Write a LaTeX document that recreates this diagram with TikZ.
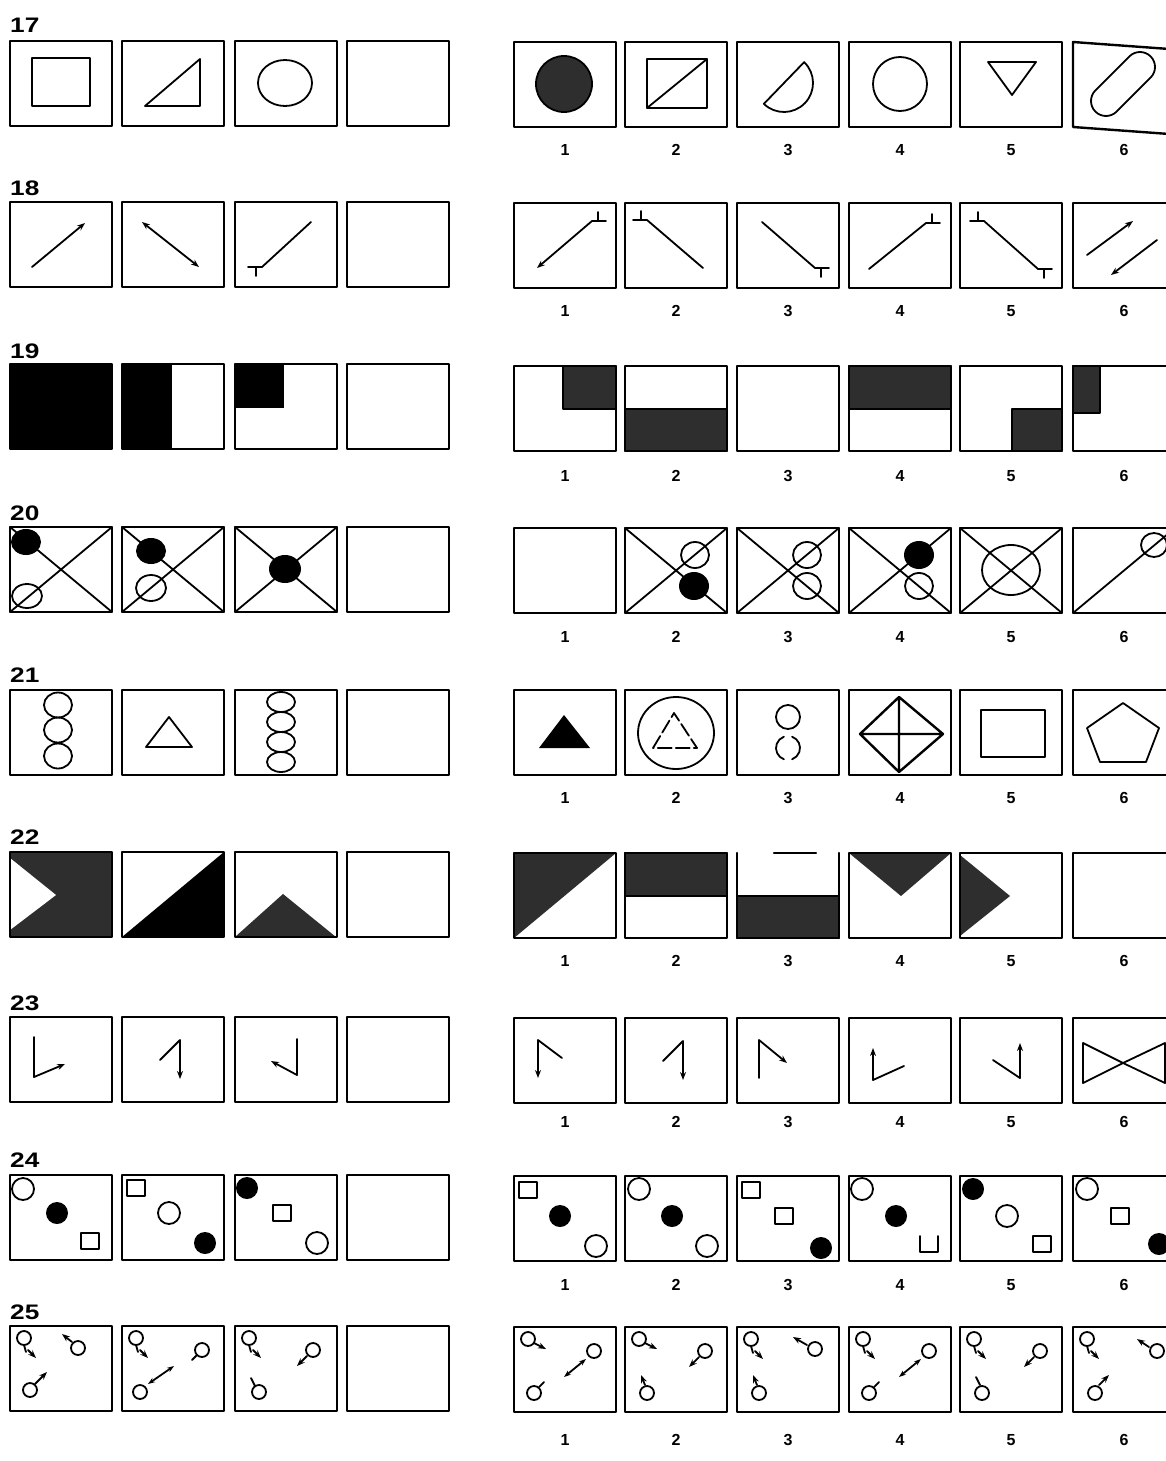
\documentclass[tikz,border=0pt]{standalone}
\usepackage{fontspec}
\setmainfont{Liberation Sans}
\usetikzlibrary{arrows.meta}
\newcommand\cell[3]{\begin{scope}[shift={(#1,#2)}]#3\draw[boxline] (0,0) rectangle (102,85);\end{scope}}
\newcommand\opencell[3]{\begin{scope}[shift={(#1,#2)}]#3\end{scope}}
\newcommand\tail[4]{\draw[fig] (#1,#2) -- ++({(#3)*14},0) ({#1+(#3)*6},#2) -- ++(0,{(#4)*9});}
\newcommand\xx{\draw[fig] (0,0) -- (102,85) (0,85) -- (102,0);}
\newcommand\hc[2]{\draw[fig] (#1,#2) circle[radius=11];}
\newcommand\fc[2]{\fill (#1,#2) circle[radius=11];}
\newcommand\sq[2]{\draw[fig] ({#1-9},{#2-8}) rectangle ({#1+9},{#2+8});}
\newcommand\ring[2]{\draw[fig] (#1,#2) circle[radius=7];}
\newcommand\ar[4]{\draw[fig,arr] (#1,#2) -- (#3,#4);}
\newcommand\nums[2]{\foreach \i/\px in {1/565,2/676,3/788,4/900,5/1011,6/1124}{\node[numlab] (n#1-\i) at (\px,#2) {\i};}}
\newcommand\rlab[2]{\node[rowlab, anchor=west] (r#1) at (10,#2) {\scalebox{1.25}[1]{#1}};}
\begin{document}
\begin{tikzpicture}[x=1pt,y=-1pt,
  boxline/.style={line width=2.4pt},
  fig/.style={line width=1.8pt},
  tex/.style={fill=black!82},
  rowlab/.style={font=\bfseries\fontsize{21}{21}\selectfont, inner sep=0pt},
  numlab/.style={font=\bfseries\fontsize{16}{16}\selectfont, inner sep=0pt},
  arr/.style={-{Stealth[length=8pt,width=6pt]}},
  line cap=round, line join=round]
\useasboundingbox (0,0) rectangle (1166,1461);
\fill[white] (0,0) rectangle (1166,1461);
\clip (0,0) rectangle (1166,1461);
% ---------- row labels
\rlab{17}{25}\rlab{18}{188}\rlab{19}{351}\rlab{20}{513}\rlab{21}{675}
\rlab{22}{837}\rlab{23}{1003}\rlab{24}{1160}\rlab{25}{1312}
% ---------- numbers
\nums{17}{150}\nums{18}{311}\nums{19}{476}\nums{20}{637}\nums{21}{798}
\nums{22}{961}\nums{23}{1122}\nums{24}{1285}\nums{25}{1440}
% ================= ROW 17
\cell{10}{41}{\draw[fig] (22,17) rectangle (80,65);}
\cell{122}{41}{\draw[fig] (23,65) -- (78,18) -- (78,65) -- cycle;}
\cell{235}{41}{\draw[fig] (50,42) ellipse[x radius=27, y radius=23];}
\cell{347}{41}{}
\cell{514}{42}{\draw[fig,fill=black!82] (50,42) circle[radius=28];}
\cell{625}{42}{\draw[line width=2.6pt] (22,17) rectangle (82,66); \draw[fig] (22,66) -- (82,17);}
\cell{737}{42}{\draw[fig] (47,41) ++(-46:29) arc[start angle=-46, end angle=134, radius=29] -- cycle;}
\cell{849}{42}{\draw[fig] (51,42) circle[radius=27];}
\cell{960}{42}{\draw[fig] (28,20) -- (76,20) -- (52,53) -- cycle;}
\opencell{1073}{42}{\draw[boxline] (110,8) -- (0,0) -- (0,85) -- (110,93);
  \draw[fig] (77.6,35.6) -- (43.6,69.6) arc[start angle=45, end angle=225, radius=15]
     -- (56.4,14.4) arc[start angle=225, end angle=405, radius=15] -- cycle;}
% ================= ROW 18
\cell{10}{202}{\draw[fig,arr] (22,65) -- (75,21);}
\cell{122}{202}{\draw[fig,{Stealth[length=8pt,width=6pt]}-{Stealth[length=8pt,width=6pt]}] (20,20) -- (77,65);}
\cell{235}{202}{\draw[fig] (76,20) -- (27,65); \tail{27}{65}{-1}{1}}
\cell{347}{202}{}
\cell{514}{203}{\draw[fig,arr] (78,18) -- (23,65); \tail{78}{18}{1}{-1}}
\cell{625}{203}{\draw[fig] (22,17) -- (78,65); \tail{22}{17}{-1}{-1}}
\cell{737}{203}{\draw[fig] (25,19) -- (78,65); \tail{78}{65}{1}{1}}
\cell{849}{203}{\draw[fig] (20,66) -- (77,20); \tail{77}{20}{1}{-1}}
\cell{960}{203}{\draw[fig] (24,18) -- (78,66); \tail{24}{18}{-1}{-1}\tail{78}{66}{1}{1}}
\cell{1073}{203}{\draw[fig,arr] (14,52) -- (60,18); \draw[fig,arr] (84,37) -- (38,72);}
% ================= ROW 19
\cell{10}{364}{\fill (0,0) rectangle (102,85);}
\cell{122}{364}{\fill (0,0) rectangle (50,85);}
\cell{235}{364}{\fill (0,0) rectangle (49,44);}
\cell{347}{364}{}
\cell{514}{366}{\filldraw[tex,fig] (49,0) rectangle (102,43);}
\cell{625}{366}{\filldraw[tex,fig] (0,43) rectangle (102,85);}
\cell{737}{366}{}
\cell{849}{366}{\filldraw[tex,fig] (0,0) rectangle (102,43);}
\cell{960}{366}{\filldraw[tex,fig] (52,43) rectangle (102,85);}
\cell{1073}{366}{\filldraw[tex,fig] (0,0) rectangle (27,47);}
% ================= ROW 20
\cell{10}{527}{\xx \fill (16,15) ellipse[x radius=15, y radius=13]; \draw[fig] (17,69) ellipse[x radius=15, y radius=12];}
\cell{122}{527}{\xx \fill (29,24) ellipse[x radius=15, y radius=13]; \draw[fig] (29,61) ellipse[x radius=15, y radius=13];}
\cell{235}{527}{\xx \fill (50,42) ellipse[x radius=16, y radius=14];}
\cell{347}{527}{}
\cell{514}{528}{}
\cell{625}{528}{\xx \draw[fig] (70,27) ellipse[x radius=14, y radius=13]; \fill (69,58) ellipse[x radius=15, y radius=14];}
\cell{737}{528}{\xx \draw[fig] (70,27) ellipse[x radius=14, y radius=13]; \draw[fig] (70,58) ellipse[x radius=14, y radius=13];}
\cell{849}{528}{\xx \fill (70,27) ellipse[x radius=15, y radius=14]; \draw[fig] (70,58) ellipse[x radius=14, y radius=13];}
\cell{960}{528}{\xx \draw[fig] (51,42) ellipse[x radius=29, y radius=25];}
\cell{1073}{528}{\draw[fig] (0,85) -- (102,0); \draw[fig] (81,17) ellipse[x radius=13, y radius=12];}
% ================= ROW 21
\cell{10}{690}{\foreach \yy in {15,40,66}{\draw[fig] (48,\yy) ellipse[x radius=14, y radius=12.5];}}
\cell{122}{690}{\draw[fig] (24,57) -- (70,57) -- (47,27) -- cycle;}
\cell{235}{690}{\foreach \yy in {12,32,52,72}{\draw[fig] (46,\yy) ellipse[x radius=14, y radius=10];}}
\cell{347}{690}{}
\cell{514}{690}{\fill (25,58) -- (76,58) -- (50,25) -- cycle;}
\cell{625}{690}{\draw[fig] (51,43) ellipse[x radius=38, y radius=36];
  \draw[fig,dash pattern=on 14pt off 4pt] (28,58) -- (49,23) -- (72,58) -- cycle;}
\cell{737}{690}{\draw[fig] (51,27) circle[radius=12];
  \draw[fig] (51,58) ++(110:12) arc[start angle=110, end angle=250, radius=12];
  \draw[fig] (51,58) ++(-70:12) arc[start angle=-70, end angle=70, radius=12];}
\cell{849}{690}{\draw[line width=2.4pt] (50,7) -- (94,44) -- (50,82) -- (11,44) -- cycle (50,7) -- (50,82) (11,44) -- (94,44);}
\cell{960}{690}{\draw[fig] (21,20) rectangle (85,67);}
\cell{1073}{690}{\draw[fig] (50,13) -- (86,38) -- (73,72) -- (27,72) -- (14,38) -- cycle;}
% ================= ROW 22
\cell{10}{852}{\fill[tex] (0,0) rectangle (102,85); \fill[white] (0,6) -- (46,43) -- (0,78) -- cycle;}
\cell{122}{852}{\fill (0,85) -- (102,0) -- (102,85) -- cycle;}
\cell{235}{852}{\fill[tex] (0,85) -- (48,42) -- (101,85) -- cycle;}
\cell{347}{852}{}
\cell{514}{853}{\fill[tex] (0,0) -- (102,0) -- (0,85) -- cycle;}
\cell{625}{853}{\filldraw[tex,fig] (0,0) rectangle (102,43);}
\opencell{737}{853}{\filldraw[tex,fig] (0,43) rectangle (102,85);
  \draw[boxline] (0,43) -- (0,0) (37,0) -- (79,0) (102,0) -- (102,43) (0,85) -- (102,85) (0,43) -- (0,85) (102,43) -- (102,85);}
\cell{849}{853}{\fill[tex] (0,0) -- (102,0) -- (52,43) -- cycle;}
\cell{960}{853}{\fill[tex] (0,2) -- (50,43) -- (0,83) -- cycle;}
\cell{1073}{853}{}
% ================= ROW 23
\cell{10}{1017}{\draw[fig,arr] (24,20) -- (24,60) -- (55,47);}
\cell{122}{1017}{\draw[fig,arr] (38,43) -- (58,23) -- (58,62);}
\cell{235}{1017}{\draw[fig,arr] (62,22) -- (62,58) -- (36,44);}
\cell{347}{1017}{}
\cell{514}{1018}{\draw[fig,arr] (48,40) -- (24,22) -- (24,60);}
\cell{625}{1018}{\draw[fig,arr] (38,43) -- (58,23) -- (58,62);}
\cell{737}{1018}{\draw[fig,arr] (22,60) -- (22,22) -- (50,45);}
\cell{849}{1018}{\draw[fig,arr] (55,48) -- (24,62) -- (24,30);}
\cell{960}{1018}{\draw[fig,arr] (33,42) -- (60,60) -- (60,25);}
\cell{1073}{1018}{\draw[fig] (10,25) -- (10,65) -- (50,45) -- cycle (92,25) -- (92,65) -- (50,45) -- cycle;}
% ================= ROW 24
\cell{10}{1175}{\hc{13}{14}\fc{47}{38}\sq{80}{66}}
\cell{122}{1175}{\sq{14}{13}\hc{47}{38}\fc{83}{68}}
\cell{235}{1175}{\fc{12}{13}\sq{47}{38}\hc{82}{68}}
\cell{347}{1175}{}
\cell{514}{1176}{\sq{14}{14}\fc{46}{40}\hc{82}{70}}
\cell{625}{1176}{\hc{14}{13}\fc{47}{40}\hc{82}{70}}
\cell{737}{1176}{\sq{14}{14}\sq{47}{40}\fc{84}{72}}
\cell{849}{1176}{\hc{13}{13}\fc{47}{40}\draw[fig] (71,60) -- (71,76) -- (89,76) -- (89,60);}
\cell{960}{1176}{\fc{13}{13}\hc{47}{40}\sq{82}{68}}
\cell{1073}{1176}{\hc{14}{13}\sq{47}{40}\fc{86}{68}}
% ================= ROW 25
\cell{10}{1326}{\ring{14}{12}\draw[fig] (14,19) -- (16,26); \ar{18}{24}{26}{32}
  \ring{68}{22}\ar{62}{16}{52}{8} \ring{20}{64}\ar{25}{58}{37}{46}}
\cell{122}{1326}{\ring{14}{12}\draw[fig] (14,19) -- (16,26); \ar{18}{24}{26}{32}
  \ring{80}{24}\draw[fig] (75,29) -- (70,34); \ring{18}{66}\draw[fig,{Stealth[length=7pt,width=5pt]}-{Stealth[length=7pt,width=5pt]}] (26,58) -- (52,40);}
\cell{235}{1326}{\ring{14}{12}\draw[fig] (14,19) -- (16,26); \ar{18}{24}{26}{32}
  \ring{78}{24}\ar{72}{30}{62}{40} \ring{24}{66}\draw[fig] (20,60) -- (16,52);}
\cell{347}{1326}{}
\cell{514}{1327}{\ring{14}{12}\ar{20}{16}{32}{22}
  \ring{80}{24}\draw[fig,{Stealth[length=7pt,width=5pt]}-{Stealth[length=7pt,width=5pt]}] (50,50) -- (72,32); \ring{20}{66}\draw[fig] (25,60) -- (30,55);}
\cell{625}{1327}{\ring{14}{12}\ar{20}{16}{32}{22}
  \ring{80}{24}\ar{74}{30}{64}{40} \ring{22}{66}\ar{20}{58}{16}{48}}
\cell{737}{1327}{\ring{14}{12}\draw[fig] (14,19) -- (16,26); \ar{18}{24}{26}{32}
  \ring{78}{22}\ar{70}{18}{56}{10} \ring{22}{66}\ar{20}{58}{16}{48}}
\cell{849}{1327}{\ring{14}{12}\draw[fig] (14,19) -- (16,26); \ar{18}{24}{26}{32}
  \ring{80}{24}\draw[fig,{Stealth[length=7pt,width=5pt]}-{Stealth[length=7pt,width=5pt]}] (50,50) -- (72,32); \ring{20}{66}\draw[fig] (25,60) -- (30,55);}
\cell{960}{1327}{\ring{14}{12}\draw[fig] (14,19) -- (16,26); \ar{18}{24}{26}{32}
  \ring{80}{24}\ar{74}{30}{64}{40} \ring{22}{66}\draw[fig] (20,58) -- (16,50);}
\cell{1073}{1327}{\ring{14}{12}\draw[fig] (14,19) -- (16,26); \ar{18}{24}{26}{32}
  \ring{84}{24}\ar{76}{20}{64}{12} \ring{22}{66}\ar{26}{58}{36}{48}}
\end{tikzpicture}
\end{document}
